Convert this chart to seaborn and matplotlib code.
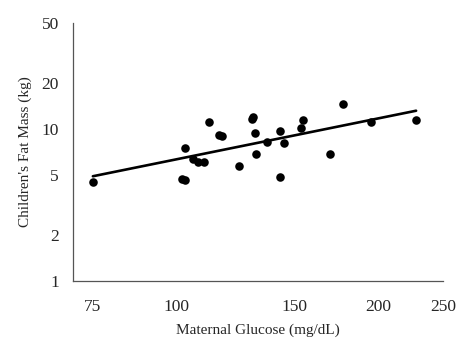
import numpy as np
import pandas as pd
import matplotlib
matplotlib.use("Agg")
import matplotlib.pyplot as plt
from matplotlib.ticker import FixedLocator, NullLocator, FixedFormatter
import seaborn as sns

# Data
glucose = [75, 102, 103, 102.9, 105.9, 107.8, 109.8, 111.8, 115.9, 117.1, 123.8,
           129.7, 129.9, 130.8, 131.4, 136.7, 142.7, 144.5, 142.7, 153.5, 154.6,
           169.3, 177.4, 195.3, 228]
fat_mass = [4.5, 4.71, 4.6, 7.48, 6.38, 6.1, 6.1, 11.1, 9.2, 9.0, 5.69,
            11.6, 12.0, 9.47, 6.86, 8.22, 9.67, 8.06, 4.84, 10.1, 11.4,
            6.86, 14.6, 11.1, 11.4]

# Regression line end points (log-log fit as drawn)
fit_x = [75, 228]
fit_y = [4.89, 13.2]

x_ticks = [75, 100, 150, 200, 250]
y_ticks = [1, 2, 5, 10, 20, 50]

df = pd.DataFrame({"glucose": glucose, "fat_mass": fat_mass})
fit = pd.DataFrame({"glucose": fit_x, "fat_mass": fit_y})

sns.set_style("white")
plt.rcParams['font.family'] = ['Liberation Serif', 'DejaVu Serif']

fig = plt.figure(figsize=(4.58, 3.41), dpi=100)
ax = fig.add_axes([0.159, 0.176, 0.808, 0.757])

sns.lineplot(data=fit, x="glucose", y="fat_mass", color="black", linewidth=1.9, ax=ax)
sns.scatterplot(data=df, x="glucose", y="fat_mass", color="black", s=38,
                edgecolor="black", linewidth=0, ax=ax, zorder=3)

ax.set_xscale("log")
ax.set_yscale("log")
ax.set_xlim(70, 250)
ax.set_ylim(1, 50)

ax.xaxis.set_major_locator(FixedLocator(x_ticks))
ax.xaxis.set_major_formatter(FixedFormatter([str(t) for t in x_ticks]))
ax.xaxis.set_minor_locator(NullLocator())
ax.yaxis.set_major_locator(FixedLocator(y_ticks))
ax.yaxis.set_major_formatter(FixedFormatter([str(t) for t in y_ticks]))
ax.yaxis.set_minor_locator(NullLocator())

ax.tick_params(axis="both", direction="out", length=3, width=0.8, color="#555555",
               labelsize=12.5)
ax.tick_params(axis="x", pad=10)
ax.tick_params(axis="y", pad=7)
for side in ["top", "right"]:
    ax.spines[side].set_visible(False)
for side in ["left", "bottom"]:
    ax.spines[side].set_color("#555555")
    ax.spines[side].set_linewidth(0.9)

ax.set_xlabel("Maternal Glucose (mg/dL)", fontsize=11, labelpad=6)
ax.set_ylabel("Children's Fat Mass (kg)", fontsize=11, labelpad=7)

fig.savefig("out.png", dpi=100)
